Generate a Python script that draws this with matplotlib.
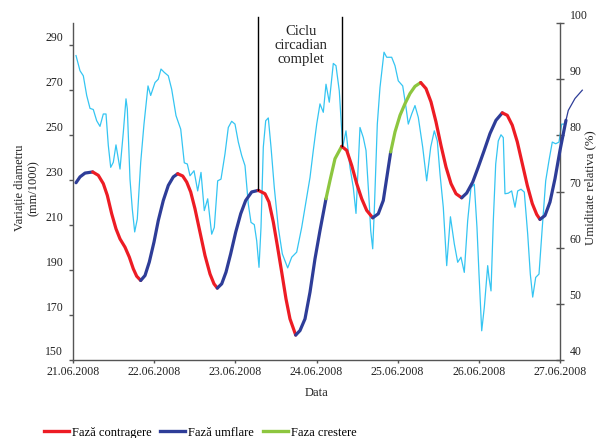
import matplotlib
matplotlib.use("Agg")
import matplotlib.pyplot as plt
import matplotlib.transforms as mtransforms
import numpy as np
from matplotlib.lines import Line2D

plt.rcParams["font.family"] = ["Liberation Serif", "DejaVu Serif"]

# x values are hours since 21.06.2008 00:00
date_labels = ["21.06.2008", "22.06.2008", "23.06.2008", "24.06.2008",
               "25.06.2008", "26.06.2008", "27.06.2008"]

# relative humidity (%), right axis
hum_hours = [
    0.89, 2.07, 3.05, 4.05, 5.03, 6.0, 7.0, 7.98, 8.96, 9.76,
    10.44, 11.15, 11.92, 12.71, 13.9, 14.87, 15.67, 16.06, 16.85, 17.53,
    18.24, 19.01, 20.02, 20.99, 22.18, 22.97, 24.25, 25.22, 26.02, 27.0,
    28.18, 29.18, 30.46, 31.85, 32.91, 33.8, 34.6, 35.78, 36.87, 37.85,
    38.82, 39.83, 41.01, 41.78, 42.78, 43.76, 44.94, 45.92, 46.92, 47.9,
    48.88, 49.88, 50.86, 51.83, 52.63, 53.61, 54.32, 55.0, 55.59, 56.27,
    56.98, 57.75, 58.55, 59.52, 60.7, 61.89, 63.48, 64.67, 66.14, 67.62,
    69.1, 70.08, 71.05, 72.06, 73.03, 74.01, 74.81, 75.78, 76.97, 77.76,
    78.74, 79.75, 80.72, 81.9, 82.88, 83.68, 84.36, 84.86, 85.84, 86.64,
    87.61, 88.03, 88.62, 89.09, 89.98, 90.77, 91.96, 92.76, 94.23, 95.21,
    96.18, 97.49, 98.46, 99.14, 100.15, 101.12, 102.1, 103.4, 104.58, 105.77,
    106.83, 107.72, 108.52, 109.49, 110.5, 111.6, 112.74, 113.75, 114.72, 115.7,
    116.7, 117.68, 118.66, 119.45, 120.05, 120.85, 121.62, 122.62, 123.0, 123.6,
    124.28, 124.99, 125.75, 126.55, 127.23, 127.73, 128.71, 129.71, 130.69, 131.49,
    132.47, 133.44, 134.45, 135.22, 135.93, 136.81, 137.79, 138.76, 139.77, 140.74,
    141.72, 142.73, 143.7, 144.5, 145.09,
]
hum_values = [
    94.2, 91.5, 90.6, 87.1, 84.8, 84.6, 82.6, 81.6, 83.8, 83.8,
    78.2, 74.3, 75.2, 78.3, 74.0, 80.5, 86.5, 84.7, 72.2, 66.9,
    62.8, 65.1, 75.2, 82.0, 88.8, 87.1, 89.4, 90.0, 91.8, 91.2,
    90.6, 88.2, 83.5, 81.1, 75.1, 74.9, 72.8, 73.7, 70.1, 73.4,
    66.6, 68.7, 62.4, 63.6, 71.9, 72.2, 76.7, 81.4, 82.5, 82.0,
    78.8, 76.4, 74.6, 67.8, 64.5, 64.1, 61.2, 56.5, 63.6, 77.9,
    82.6, 83.1, 77.9, 70.7, 63.6, 58.9, 56.4, 58.3, 59.2, 63.6,
    69.0, 72.5, 77.3, 82.0, 85.6, 84.1, 89.1, 85.9, 92.8, 92.4,
    87.9, 77.9, 80.8, 74.3, 70.7, 66.1, 74.9, 81.4, 79.6, 77.3,
    67.8, 63.0, 59.8, 66.6, 82.0, 88.5, 94.8, 93.9, 93.9, 92.4,
    89.7, 88.8, 85.0, 82.0, 83.8, 85.3, 83.2, 77.9, 71.9, 77.9,
    80.8, 79.0, 73.1, 67.2, 56.8, 65.5, 60.7, 57.4, 58.3, 55.6,
    64.8, 70.7, 71.3, 63.6, 55.3, 45.2, 49.4, 56.8, 54.7, 52.3,
    64.8, 74.9, 79.0, 80.1, 79.6, 69.6, 69.7, 70.1, 67.2, 70.1,
    70.4, 69.9, 62.4, 55.3, 51.2, 54.7, 55.3, 63.6, 71.9, 75.5,
    78.8, 78.5, 78.8, 82.0, 82.0,
]

# stem diameter variation (mm/1000), left axis
diam_hours = [
    0.89, 2.07, 3.55, 5.82, 7.48, 8.96, 10.14, 11.44, 12.71, 13.9,
    15.38, 16.65, 17.83, 18.83, 20.02, 21.29, 22.56, 23.95, 25.22, 26.7,
    28.18, 29.66, 30.96, 32.44, 33.62, 34.8, 36.07, 37.55, 39.03, 40.51,
    41.69, 42.67, 43.97, 45.24, 46.63, 48.11, 49.59, 51.06, 52.84, 54.79,
    56.77, 57.95, 59.23, 60.41, 61.71, 62.98, 64.16, 65.85, 67.12, 68.6,
    70.08, 71.55, 73.03, 74.81, 75.99, 77.47, 79.45, 80.93, 82.41, 83.89,
    85.36, 86.84, 88.62, 90.27, 91.75, 93.94, 95.21, 96.69, 98.17, 99.64,
    101.12, 102.81, 104.38, 105.85, 107.33, 108.81, 110.29, 111.77, 113.25, 114.93,
    116.41, 118.19, 119.84, 121.52, 123.3, 125.07, 126.94, 128.42, 129.89, 131.37,
    132.85, 134.33, 135.81, 137.11, 138.08, 139.56, 141.04, 142.52, 144.0, 145.77,
]
diam_values = [
    228.9, 231.5, 233.2, 233.7, 232.2, 228.5, 223.3, 215.1, 208.4, 203.9,
    200.2, 195.8, 190.6, 187.3, 185.4, 187.6, 193.6, 202.5, 212.1, 221.0,
    227.7, 231.5, 232.9, 231.9, 229.2, 224.8, 217.3, 206.9, 196.5, 188.3,
    183.9, 182.0, 183.9, 189.1, 197.3, 206.9, 215.1, 221.0, 224.8, 225.5,
    224.0, 220.3, 211.4, 201.0, 189.1, 177.2, 168.3, 161.1, 163.1, 168.3,
    180.2, 195.0, 207.6, 221.8, 229.9, 239.6, 245.1, 243.3, 236.6, 228.5,
    221.8, 216.6, 213.3, 215.1, 221.0, 242.6, 251.5, 258.9, 264.1, 268.6,
    271.8, 273.5, 270.8, 264.9, 256.0, 245.5, 235.9, 228.5, 224.0, 222.2,
    224.3, 229.2, 235.9, 243.0, 250.8, 256.7, 260.0, 258.9, 254.5, 247.1,
    237.4, 227.7, 219.6, 214.8, 212.6, 214.3, 220.3, 230.7, 243.3, 256.7,
]
# thin continuation drawn past the right axis
tail_hours = [145.77, 146.45, 148.43, 150.59]
tail_values = [256.7, 261.1, 266.4, 270.1]

phase_bounds = [0.89, 5.82, 20.02, 30.96, 42.67, 54.79, 65.85, 74.81, 79.45,
                88.62, 93.94, 102.81, 114.93, 126.94, 138.08, 145.77]
phase_names = ["umflare", "contragere", "umflare", "contragere", "umflare",
               "contragere", "umflare", "crestere", "contragere", "umflare",
               "crestere", "contragere", "umflare", "contragere", "umflare"]

cycle_hours = [54.79, 79.45]

colors = {"contragere": "#ED1C24", "umflare": "#2E3D98", "crestere": "#8DC63F"}
hum_color = "#35C5F2"
axis_color = "#555555"
text_color = "#222222"

fig = plt.figure(figsize=(5.97, 4.39), dpi=100)
ax = fig.add_axes([73 / 597, 1 - 361 / 439, 487 / 597, 337 / 439])
ax2 = ax.twinx()
ax.set_zorder(ax2.get_zorder() + 1)
ax.patch.set_visible(False)

ax2.plot(hum_hours, hum_values, color=hum_color, lw=0.9, clip_on=False)

t = np.array(diam_hours)
v = np.array(diam_values)
for start, end, name in zip(phase_bounds[:-1], phase_bounds[1:], phase_names):
    mask = (t >= start - 1e-6) & (t <= end + 1e-6)
    ax.plot(t[mask], v[mask], color=colors[name], lw=2.3,
            solid_capstyle="round", solid_joinstyle="round", clip_on=False)
ax.plot(tail_hours, tail_values, color=colors["umflare"], lw=0.9, clip_on=False)

for c in cycle_hours:
    peak = v[np.isclose(t, c)][0]
    ax.plot([c, c], [peak, 302.5], color="black", lw=1.0, clip_on=False, zorder=4)
ax.text(sum(cycle_hours) / 2 + 0.2, 290.5, "Ciclu\ncircadian\ncomplet", ha="center",
        va="center", fontsize=10.5, linespacing=1.1, color=text_color)

ax.set_xlim(0, 144)
ax.set_xticks(np.arange(0, 145, 24))
ax.set_xticklabels(date_labels)
ax.set_ylim(150, 300)
ax.set_yticks(np.arange(150, 291, 20))
ax2.set_ylim(40, 100)
ax2.set_yticks(np.arange(40, 101, 10))

for a in (ax, ax2):
    a.spines["top"].set_visible(False)
    for s in ("left", "right", "bottom"):
        a.spines[s].set_color(axis_color)
        a.spines[s].set_linewidth(1.0)
ax.spines["right"].set_visible(False)
ax2.spines["left"].set_visible(False)
ax2.spines["bottom"].set_visible(False)

ax.tick_params(axis="y", direction="out", length=3, width=1, color=axis_color,
               labelsize=8.5, labelcolor=text_color, pad=4)
ax.tick_params(axis="x", direction="out", length=2.2, width=1, color=axis_color,
               labelsize=8.5, labelcolor=text_color, pad=1.5)
ax2.tick_params(axis="y", direction="inout", length=6, width=1, color=axis_color,
                labelsize=8.5, labelcolor=text_color, pad=4)

# tick labels in the original sit above their ticks
offset = mtransforms.ScaledTranslation(0, 0.1, fig.dpi_scale_trans)
for lab in ax.get_yticklabels() + ax2.get_yticklabels():
    lab.set_transform(lab.get_transform() + offset)

fig.text(26.5 / 597, 1 - 188 / 439, "Variație diametru\n(mm/1000)", rotation=90,
         ha="center", va="center", fontsize=9, linespacing=1.25, color=text_color)
fig.text(590.5 / 597, 1 - 188 / 439, "Umiditate relativa (%)", rotation=90,
         ha="center", va="center", fontsize=9.2, color=text_color)
fig.text(317 / 597, 1 - 393 / 439, "Data", ha="center", va="center",
         fontsize=9, color=text_color)

handles = [Line2D([], [], color=colors[k], lw=2.4) for k in ("contragere", "umflare", "crestere")]
labels = ["Fază contragere", "Fază umflare", "Faza crestere"]
fig.legend(handles, labels, loc="center", bbox_to_anchor=(200 / 597, 1 - 433 / 439),
           ncol=3, frameon=False, fontsize=9, handlelength=2.0, handletextpad=0.25,
           columnspacing=0.7, borderpad=0, borderaxespad=0)

fig.savefig("out.png", dpi=100)
